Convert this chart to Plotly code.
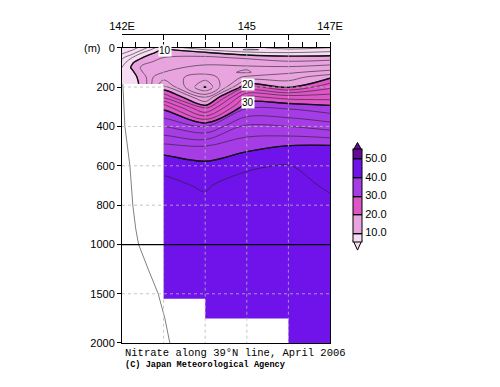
import plotly.graph_objects as go

# ---------------- data ----------------
lons = [142.0, 142.25, 142.5, 142.75, 143.0, 144.0, 145.0, 146.0, 147.0]
depths = [0, 10, 25, 50, 75, 100, 125, 150, 200, 250, 300, 400, 500, 600,
          700, 800, 1000, 1250, 1500, 1750, 2000]

deep143 = [23.5, 29.2, 34.0, 38.5, 41.8, 42.2, 42.5, 42.7, 42.8, 42.9, 42.8, 42.7]
n142_00 = [2.0, 2.5, 3.5, 5.5, 7.0, 8.0, 8.5, 8.6, 8.8] + deep143
n142_25 = [3.0, 3.8, 5.0, 8.0, 9.8, 10.4, 9.6, 9.2, 9.0] + deep143
n142_50 = [5.0, 6.0, 8.0, 10.0, 11.5, 12.5, 12.0, 11.0, 10.8] + deep143
n142_75 = [7.5, 8.5, 9.8, 11.2, 12.2, 13.0, 13.5, 14.0, 15.0] + deep143
n143 = [9.8, 10.5, 11.0, 12.0, 12.8, 13.5, 14.0, 15.0, 18.5] + deep143
n144 = [6.0, 8.0, 10.2, 12.5, 13.5, 14.5, 14.6, 13.0, 9.8, 15.5, 20.8, 32.0,
        38.0, 40.6, 41.9, 42.2, 42.6, 42.8, 42.9, 42.8, 42.7]
n145 = [6.8, 5.8, 8.5, 11.5, 13.5, 14.2, 13.8, 16.5, 22.0, 28.5, 31.5, 36.5,
        39.3, 41.8, 42.5, 42.7, 42.9, 43.0, 43.0, 42.8, 42.7]
n146 = [5.0, 6.5, 8.0, 10.8, 12.4, 14.3, 15.7, 17.0, 19.8, 27.0, 31.5, 36.0,
        40.1, 42.1, 42.5, 42.7, 42.9, 43.0, 43.0, 42.8, 42.7]
n147 = [6.0, 7.0, 8.5, 10.8, 13.0, 15.0, 16.7, 19.6, 23.5, 27.0, 30.5, 35.0,
        40.2, 41.2, 41.8, 42.3, 42.8, 43.0, 43.0, 42.8, 42.5]
columns = [n142_00, n142_25, n142_50, n142_75, n143, n144, n145, n146, n147]

# bottom topography (masked area)
bottom_lon = [142.0, 143.0, 143.0, 144.0, 144.0, 146.0, 146.0, 142.0]
bottom_depth = [185, 185, 1550, 1550, 1750, 1750, 2000, 2000]

# reference profile line
profile_lon = [142.02, 142.07, 142.19, 142.26, 142.33, 142.4, 142.63, 142.87, 143.03, 143.15]
profile_depth = [185, 400, 600, 800, 920, 1000, 1250, 1500, 1750, 2000]

depth_ticks = [0, 200, 400, 600, 800, 1000, 1500, 2000]
grid_depths = [200, 400, 600, 800, 1500]
station_lons = [143, 144, 145, 146]
lon_ticks = [142, 143, 144, 145, 146, 147]
lon_labels = ['142E', '', '', '145', '', '147E']
minor_lon_ticks = [142 + k / 3 for k in range(16)]

fill_levels = [10, 20, 30, 40, 50]
fill_colors = ['#f7ddf3', '#e9a4e0', '#de55c8', '#a63ce6', '#7012ea', '#650a96']

contour_labels = [('10', 143.03, 15), ('20', 145.02, 186), ('30', 145.02, 277)]

# layout geometry (pixels of the final picture)
PX_L, PX_R, PX_T, PX_B = 122, 330, 27, 343   # plot area incl. top axis
PAGE_OFFSET = 8                               # default body margin of the html page


def ty(d):
    return d if d <= 1000 else 1000 + (d - 1000) / 2.0


def px2paper(px, py):
    return (px - PX_L) / (PX_R - PX_L), (PX_B - py) / (PX_B - PX_T)


yv = [ty(d) for d in depths]
z = [[columns[j][i] for j in range(len(lons))] for i in range(len(depths))]

fig = go.Figure()

band_px = 18.5
cb_top, cb_bot = 155 - band_px / 2, 229 + band_px / 2
cb_x, cb_w = 353, 9
cs = [[k / (len(fill_colors) - 1), c] for k, c in enumerate(fill_colors)]
fig.add_trace(go.Contour(
    x=lons, y=yv, z=z,
    contours=dict(start=fill_levels[0], end=fill_levels[-1], size=10, coloring='fill'),
    colorscale=cs,
    line=dict(color='black', width=1.4),
    hoverinfo='skip',
    colorbar=dict(
        x=px2paper(cb_x, 0)[0], xanchor='left', xpad=0,
        y=px2paper(0, (cb_top + cb_bot) / 2)[1], yanchor='middle', ypad=0,
        len=cb_bot - cb_top, lenmode='pixels', thickness=cb_w,
        outlinecolor='black', outlinewidth=1,
        tickvals=fill_levels, ticktext=['%.1f' % v for v in fill_levels],
        ticks='', tickfont=dict(family='Liberation Sans', size=11, color='black'),
    ),
))
fig.add_trace(go.Contour(
    x=lons, y=yv, z=z,
    contours=dict(start=2, end=48, size=2, coloring='none'),
    line=dict(color='#222222', width=0.6),
    showscale=False, hoverinfo='skip',
))
fig.add_trace(go.Scatter(
    x=bottom_lon, y=[ty(d) for d in bottom_depth], mode='lines', fill='toself',
    fillcolor='white', line=dict(width=0, color='white'), hoverinfo='skip',
    showlegend=False,
))
fig.add_trace(go.Scatter(
    x=profile_lon, y=[ty(d) for d in profile_depth], mode='lines',
    line=dict(color='#808080', width=1), hoverinfo='skip', showlegend=False,
))
fig.add_trace(go.Scatter(
    x=[lon_ticks[0], lon_ticks[-1]], y=[0, 0], xaxis='x2', mode='none',
    hoverinfo='skip', showlegend=False,
))

shapes = []
for d in grid_depths:
    shapes.append(dict(type='line', xref='paper', yref='y', x0=0, x1=1, y0=ty(d), y1=ty(d),
                       line=dict(color='#b8b8b8', width=0.8, dash='dot'), layer='above'))
for lo in station_lons:
    shapes.append(dict(type='line', xref='x', yref='y', x0=lo, x1=lo, y0=0, y1=ty(2000),
                       line=dict(color='#b8b8b8', width=0.8, dash='dot'), layer='above'))
shapes.append(dict(type='line', xref='paper', yref='y', x0=0, x1=1, y0=ty(1000), y1=ty(1000),
                   line=dict(color='black', width=1.2), layer='above'))


# colorbar end triangles (extensions for <10 and >50)
def tri(base_y, apex_y, color):
    x0, y0 = px2paper(cb_x, base_y)
    x1, _ = px2paper(cb_x + cb_w, base_y)
    xm, ya = px2paper(cb_x + cb_w / 2, apex_y)
    return dict(type='path', xref='paper', yref='paper',
                path=f'M {x0} {y0} L {x1} {y0} L {xm} {ya} Z',
                fillcolor=color, line=dict(color='black', width=1), layer='above')


shapes.append(tri(cb_top + 0.5, 138, fill_colors[-1]))
shapes.append(tri(cb_bot - 0.5, 248, fill_colors[0]))

annotations = []
for txt, lo, d in contour_labels:
    annotations.append(dict(x=lo, y=ty(d), xref='x', yref='y', text=txt, showarrow=False,
                            font=dict(family='Liberation Sans', size=10, color='black'),
                            bgcolor='white', borderpad=0))
annotations.append(dict(x=px2paper(82, 0)[0], y=0, xref='paper', yref='y', text='(m)',
                        showarrow=False,
                        font=dict(family='Liberation Sans', size=11, color='black')))
annotations.append(dict(x=px2paper(123, 0)[0], y=px2paper(0, 353)[1], xref='paper', yref='paper',
                        text='Nitrate along 39°N line, April 2006', showarrow=False,
                        xanchor='left', yanchor='middle',
                        font=dict(family='Liberation Mono', size=10.5, color='black')))
annotations.append(dict(x=px2paper(123, 0)[0], y=px2paper(0, 366)[1], xref='paper', yref='paper',
                        text='<b>(C) Japan Meteorological Agency</b>', showarrow=False,
                        xanchor='left', yanchor='middle',
                        font=dict(family='Liberation Mono', size=8.6, color='black')))

fig.update_layout(
    width=500, height=387,
    margin=dict(l=PX_L - PAGE_OFFSET, r=500 - PX_R + PAGE_OFFSET,
                t=PX_T - PAGE_OFFSET, b=387 - PX_B + PAGE_OFFSET),
    paper_bgcolor='white', plot_bgcolor='white',
    showlegend=False,
    xaxis=dict(range=[142, 147], side='top', tickvals=minor_lon_ticks, ticks='outside',
               ticklen=5, tickcolor='black', showticklabels=False, showline=True,
               linecolor='black', linewidth=1, mirror=True, showgrid=False, zeroline=False),
    xaxis2=dict(range=[142, 147], overlaying='x', anchor='free', position=1, side='top',
                tickvals=lon_ticks, ticktext=lon_labels, ticks='inside', ticklen=5,
                tickcolor='black', showline=True, linecolor='black', linewidth=1,
                showgrid=False, zeroline=False,
                tickfont=dict(family='Liberation Sans', size=11, color='black')),
    yaxis=dict(domain=[0, (PX_B - 41) / (PX_B - PX_T)], range=[ty(2000), 0],
               tickvals=[ty(d) for d in depth_ticks], ticktext=[str(d) for d in depth_ticks],
               ticks='outside', ticklen=4, tickcolor='black', showline=True, linecolor='black',
               linewidth=1, mirror=True, showgrid=False, zeroline=False,
               tickfont=dict(family='Liberation Sans', size=11, color='black')),
    shapes=shapes,
    annotations=annotations,
)

fig.write_html('out.html')
